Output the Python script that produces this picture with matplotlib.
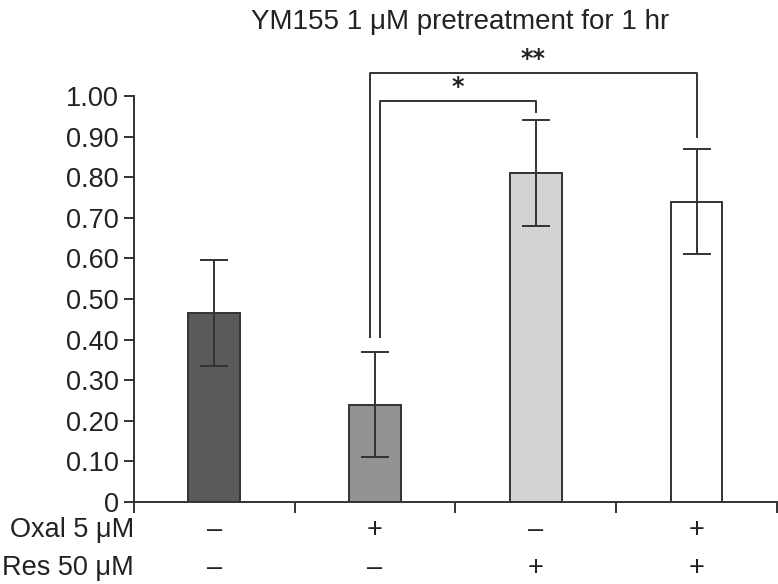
import matplotlib
matplotlib.use("Agg")
import matplotlib.pyplot as plt
import numpy as np

plt.rcParams['font.family'] = ['Liberation Sans', 'DejaVu Sans']

# data
groups = ['ctrl', 'oxal', 'res', 'oxal+res']
means = [0.465, 0.24, 0.81, 0.74]
errs = [0.13, 0.13, 0.13, 0.13]
colors = ['#5a5a5a', '#939393', '#d3d3d3', '#ffffff']
oxal_signs = ['\u2013', '+', '\u2013', '+']
res_signs = ['\u2013', '\u2013', '+', '+']
yticks = [0, 0.1, 0.2, 0.3, 0.4, 0.5, 0.6, 0.7, 0.8, 0.9, 1.0]
ytick_labels = ['0', '0.10', '0.20', '0.30', '0.40', '0.50', '0.60',
                '0.70', '0.80', '0.90', '1.00']
# significance brackets: (from, to, height, left end, right end, label)
brackets = [(1, 3, 1.057, 0.406, 0.90, '**'),
            (1, 2, 0.988, 0.406, 0.96, '*')]

dark = '#333333'
fs = 19.5

fig = plt.figure(figsize=(7.78, 5.84), dpi=100)
ax = fig.add_axes([0.172, 0.1404, 0.8267, 0.6952])

x = np.arange(len(groups))
ax.bar(x, means, width=0.32, color=colors, edgecolor=dark, linewidth=1.4, zorder=2)
ax.errorbar(x, means, yerr=errs, fmt='none', ecolor=dark, elinewidth=1.4,
            capsize=10, capthick=1.4, zorder=3)

ax.set_xlim(-0.5, 3.5)
ax.set_ylim(0, 1.0)
ax.set_yticks(yticks)
ax.set_yticklabels(ytick_labels, fontsize=fs, color='#222222')
ax.set_xticks(np.arange(-0.5, 3.6, 1.0))
ax.set_xticklabels([])
ax.tick_params(axis='y', direction='out', length=7, width=1.4, color=dark, pad=4)
ax.tick_params(axis='x', direction='out', length=8, width=1.4, color=dark)
for s in ['top', 'right']:
    ax.spines[s].set_visible(False)
for s in ['left', 'bottom']:
    ax.spines[s].set_color(dark)
    ax.spines[s].set_linewidth(1.4)

# condition rows under the axis
row1, row2 = -0.07, -0.163
for i in range(len(groups)):
    ax.text(x[i], row1, oxal_signs[i], ha='center', va='center', fontsize=fs,
            color='#222222', clip_on=False)
    ax.text(x[i], row2, res_signs[i], ha='center', va='center', fontsize=fs,
            color='#222222', clip_on=False)
ax.text(-0.5, row1, 'Oxal 5 \u03bcM', ha='right', va='center', fontsize=fs,
        color='#222222', clip_on=False)
ax.text(-0.5, row2, 'Res 50 \u03bcM', ha='right', va='center', fontsize=fs,
        color='#222222', clip_on=False)

# significance brackets
off = 0.031
for a, b, h, ya, yb, lab in brackets:
    xa = a - off if lab == '**' else a + off
    ax.plot([xa, xa, b, b], [ya, h, h, yb], color=dark, lw=1.4,
            clip_on=False, zorder=4)
    ax.text((xa + b) / 2, h + 0.004, lab, ha='center', va='bottom',
            fontsize=17, family='DejaVu Sans', fontweight='bold',
            color='#222222', clip_on=False)

fig.text(0.591, 0.962, 'YM155 1 \u03bcM pretreatment for 1 hr', ha='center',
         va='center', fontsize=20, color='#222222')

fig.savefig('out.png', dpi=100)
